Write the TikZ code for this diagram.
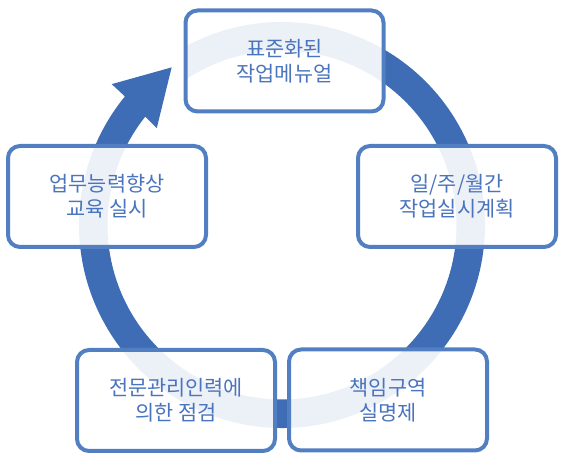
\documentclass[tikz,border=0pt]{standalone}
\usepackage{fontspec}
\setmainfont{Noto Sans CJK KR}
\definecolor{ringblue}{HTML}{3E6DB5}
\definecolor{boxblue}{HTML}{517FC1}
\definecolor{txtblue}{HTML}{4A74BD}
\begin{document}
\begin{tikzpicture}[x=1pt,y=1pt,
  stepbox/.style={draw=boxblue, line width=4pt, rounded corners=12pt,
    fill=white, fill opacity=0.9, text opacity=1, draw opacity=1,
    minimum width=198pt, minimum height=101pt, inner sep=0pt,
    align=center, text=txtblue, font=\fontsize{20.8}{25}\selectfont}]
\useasboundingbox (0,0) rectangle (569,462);
% circular arrow
\begin{scope}[shift={(282,237)}]
\fill[ringblue] (118.2:203) arc[start angle=118.2, end angle=-219.3, radius=203]
  -- (140.4:221) -- (125:192.4) -- (142.3:158.3) -- (141.6:174.5)
  arc[start angle=-218.4, end angle=123.4, radius=174.5] -- cycle;
\end{scope}
% boxes
\node[stepbox] (top) at (284.5,401) {표준화된\\작업메뉴얼};
\node[stepbox] (right) at (457,265.5) {일/주/월간\\작업실시계획};
\node[stepbox] (left) at (107,265.5) {업무능력향상\\교육 실시};
\node[stepbox] (bl) at (176,61.5) {전문관리인력에\\의한 점검};
\node[stepbox] (br) at (388,62) {책임구역\\실명제};
\end{tikzpicture}
\end{document}
